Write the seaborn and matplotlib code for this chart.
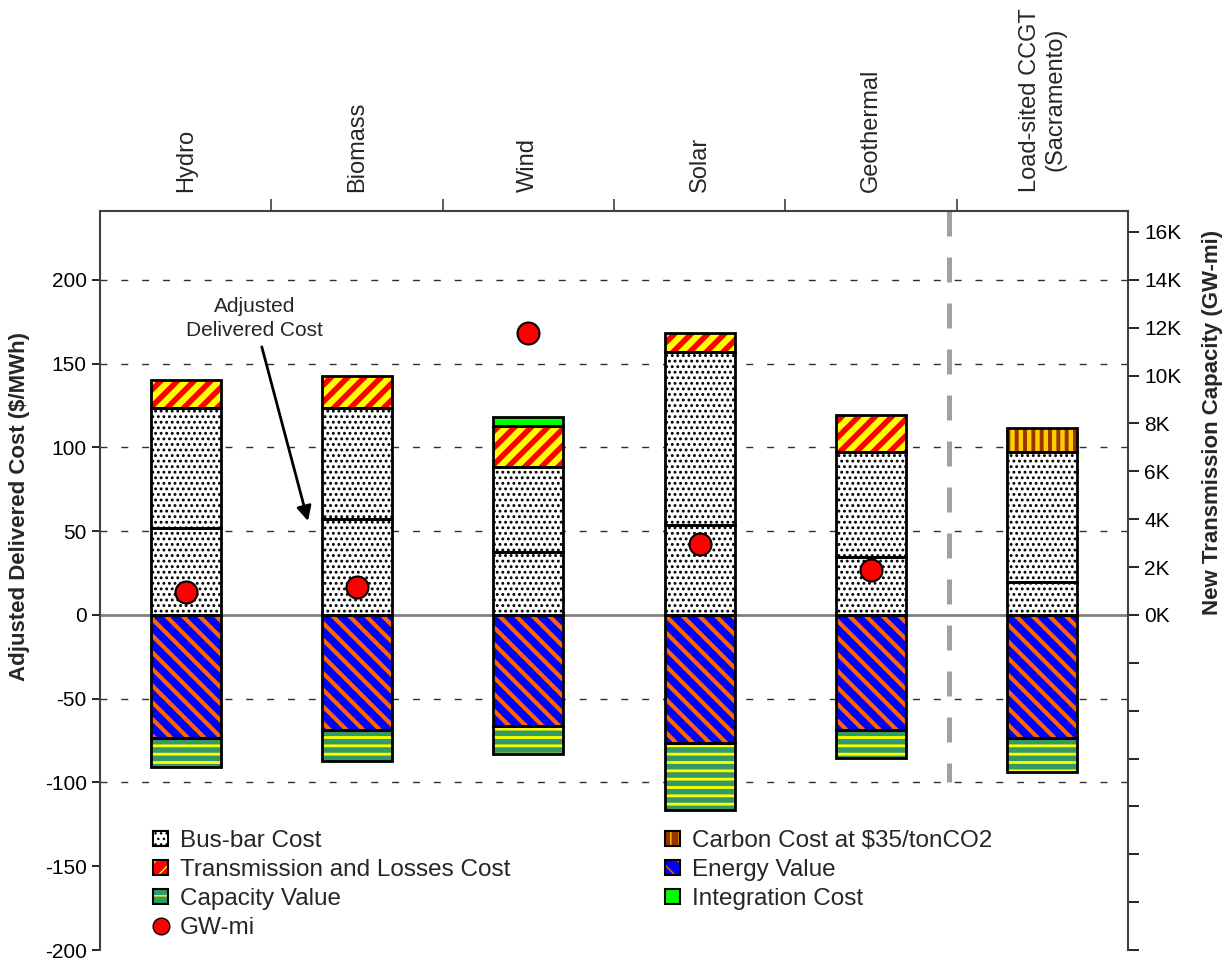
import numpy as np
import matplotlib
matplotlib.use("Agg")
import matplotlib.pyplot as plt
import seaborn as sns
from matplotlib.patches import Patch
from matplotlib.lines import Line2D
from matplotlib.ticker import MultipleLocator, FuncFormatter

sns.set_theme(style="white")
plt.rcParams["font.family"] = ["Liberation Sans", "DejaVu Sans"]
plt.rcParams["axes.unicode_minus"] = False

# values ($/MWh, GW-mi)
categories = ["Hydro", "Biomass", "Wind", "Solar", "Geothermal",
              "Load-sited CCGT\n(Sacramento)"]
busbar_lower = [52.0, 57.0, 37.6, 53.7, 34.6, 19.7]
busbar_upper = [71.6, 66.6, 50.8, 103.3, 62.7, 77.6]
transmission = [16.7, 19.1, 24.4, 11.4, 22.1, 0.0]
integration = [0.0, 0.0, 5.4, 0.0, 0.0, 0.0]
carbon = [0.0, 0.0, 0.0, 0.0, 0.0, 14.3]
energy_value = [-73.4, -68.7, -66.3, -76.4, -68.7, -73.4]
capacity_value = [-17.3, -18.5, -16.7, -40.0, -16.7, -20.3]
gw_mi = [960, 1170, 11790, 2970, 1880, np.nan]

x = np.arange(len(categories))
bar_w = 0.41

fig = plt.figure(figsize=(12.3, 9.65), dpi=100)
ax = fig.add_axes([0.0813, 0.0155, 0.8358, 0.7658])


def segment(bottoms, heights, face, hatch_color=None, hatch=None, hatch_lw=1.0):
    bottoms = np.asarray(bottoms, dtype=float)
    heights = np.asarray(heights, dtype=float)
    m = heights != 0
    with plt.rc_context({"hatch.linewidth": hatch_lw}):
        bars = ax.bar(x[m], heights[m], bottom=bottoms[m], width=bar_w,
                      color=face, edgecolor=hatch_color if hatch else face,
                      hatch=hatch, linewidth=0, zorder=3)
    for p in bars:
        if hasattr(p, "set_hatch_linewidth"):
            p.set_hatch_linewidth(hatch_lw)
    ax.bar(x[m], heights[m], bottom=bottoms[m], width=bar_w, fill=False,
           edgecolor="black", linewidth=2, zorder=4)


zeros = np.zeros(len(x))
b1 = np.array(busbar_lower)
b2 = b1 + np.array(busbar_upper)
b3 = b2 + np.array(transmission)
e1 = np.array(energy_value)

segment(zeros, busbar_lower, "white", "black", "...", 1.3)
segment(b1, busbar_upper, "white", "black", "...", 1.3)
segment(b2, transmission, "#FF0000", "#FFFF00", "//", 4.5)
segment(b3, integration, "#00FF00")
segment(b2, carbon, "#993300", "#FFCC00", "||", 3.2)
segment(zeros, energy_value, "#0000FF", "#FF6600", "\\\\", 3.0)
segment(e1, capacity_value, "#339966", "#FFFF00", "--", 2.0)

# gridlines and zero line
for v in [200, 150, 100, 50, -50, -100]:
    ax.axhline(v, color="#303030", lw=1, dashes=(5, 10), zorder=1)
ax.axhline(0, color="#808080", lw=2, zorder=2)

# separator between renewables and CCGT
ax.plot([4.456, 4.456], [241, -100], color="#A0A0A0", lw=3.6,
        dashes=(5, 4.2), dash_capstyle="butt", zorder=2)

ax.set_xlim(-0.5, 5.5)
ax.set_ylim(-200, 241)
ax.set_yticks(np.arange(-200, 201, 50))
ax.tick_params(axis="y", left=True, direction="out", length=6, width=1.2,
               labelsize=15, colors="black")

ax.xaxis.tick_top()
ax.set_xticks(x)
ax.set_xticklabels(categories, rotation=90, fontsize=17)
ax.set_xticks(x[:-1] + 0.5, minor=True)
ax.tick_params(axis="x", which="major", top=True, length=0, pad=14)
ax.tick_params(axis="x", which="minor", top=True, length=9, width=1.2,
               direction="out", color="#404040")

for s in ["left", "top"]:
    ax.spines[s].set_visible(True)
    ax.spines[s].set_color("#404040")
    ax.spines[s].set_linewidth(1.5)
ax.spines["right"].set_visible(False)
ax.spines["bottom"].set_visible(False)

ax.set_ylabel("Adjusted Delivered Cost ($/MWh)", fontweight="bold", fontsize=16)
ax.yaxis.set_label_coords(-0.068, 0.60)

ax.annotate("Adjusted\nDelivered Cost", xy=(0.714, 56), xytext=(0.40, 177),
            ha="center", va="center", fontsize=15, linespacing=1.3,
            arrowprops=dict(arrowstyle="-|>", color="black", lw=2,
                            mutation_scale=22, shrinkA=3, shrinkB=0),
            zorder=6)

# right axis: transmission capacity
ax2 = ax.twinx()
sns.scatterplot(x=x, y=gw_mi, ax=ax2, s=250, color="#FF0000",
                edgecolor="black", linewidth=1.5, zorder=5, legend=False)
ax2.set_ylim(-14000, 16870)
ax2.set_xlim(-0.5, 5.5)
ax2.yaxis.set_major_locator(MultipleLocator(2000))
ax2.yaxis.set_major_formatter(
    FuncFormatter(lambda v, p: f"{int(round(v / 1000))}K" if v >= 0 else ""))
ax2.tick_params(axis="y", right=True, direction="out", length=8, width=1.2,
                labelsize=15, colors="black")
for s in ["left", "top", "bottom"]:
    ax2.spines[s].set_visible(False)
ax2.spines["right"].set_visible(True)
ax2.spines["right"].set_color("#404040")
ax2.spines["right"].set_linewidth(1.5)
ax2.set_ylabel("New Transmission Capacity (GW-mi)", fontweight="bold",
               fontsize=16)
ax2.yaxis.set_label_coords(1.072, 0.714)


def swatch(face, hatch_color=None, hatch=None):
    return (Patch(facecolor=face, edgecolor=hatch_color if hatch else face,
                  hatch=hatch, linewidth=0),
            Patch(fill=False, edgecolor="black", linewidth=1.5))


legend_kw = dict(loc="upper left", frameon=False, fontsize=17.5,
                 handlelength=0.6, handleheight=0.6, handletextpad=0.5,
                 labelspacing=0.28, borderpad=0, borderaxespad=0)

handles_a = [
    swatch("white", "black", "..."),
    swatch("#FF0000", "#FFFF00", "//"),
    swatch("#339966", "#FFFF00", "--"),
    Line2D([], [], marker="o", linestyle="none", markersize=12,
           markerfacecolor="#FF0000", markeredgecolor="black"),
]
labels_a = ["Bus-bar Cost", "Transmission and Losses Cost", "Capacity Value",
            "GW-mi"]
handles_b = [
    swatch("#993300", "#FFCC00", "||"),
    swatch("#0000FF", "#FF6600", "\\\\"),
    swatch("#00FF00"),
]
labels_b = ["Carbon Cost at $35/tonCO2", "Energy Value", "Integration Cost"]

leg_a = ax.legend(handles_a, labels_a, bbox_to_anchor=(0.052, 0.162),
                  **legend_kw)
ax.add_artist(leg_a)
leg_b = ax.legend(handles_b, labels_b, bbox_to_anchor=(0.55, 0.162),
                  **legend_kw)
leg_a.set_zorder(10)
leg_b.set_zorder(10)

fig.savefig("out.png", dpi=100)
